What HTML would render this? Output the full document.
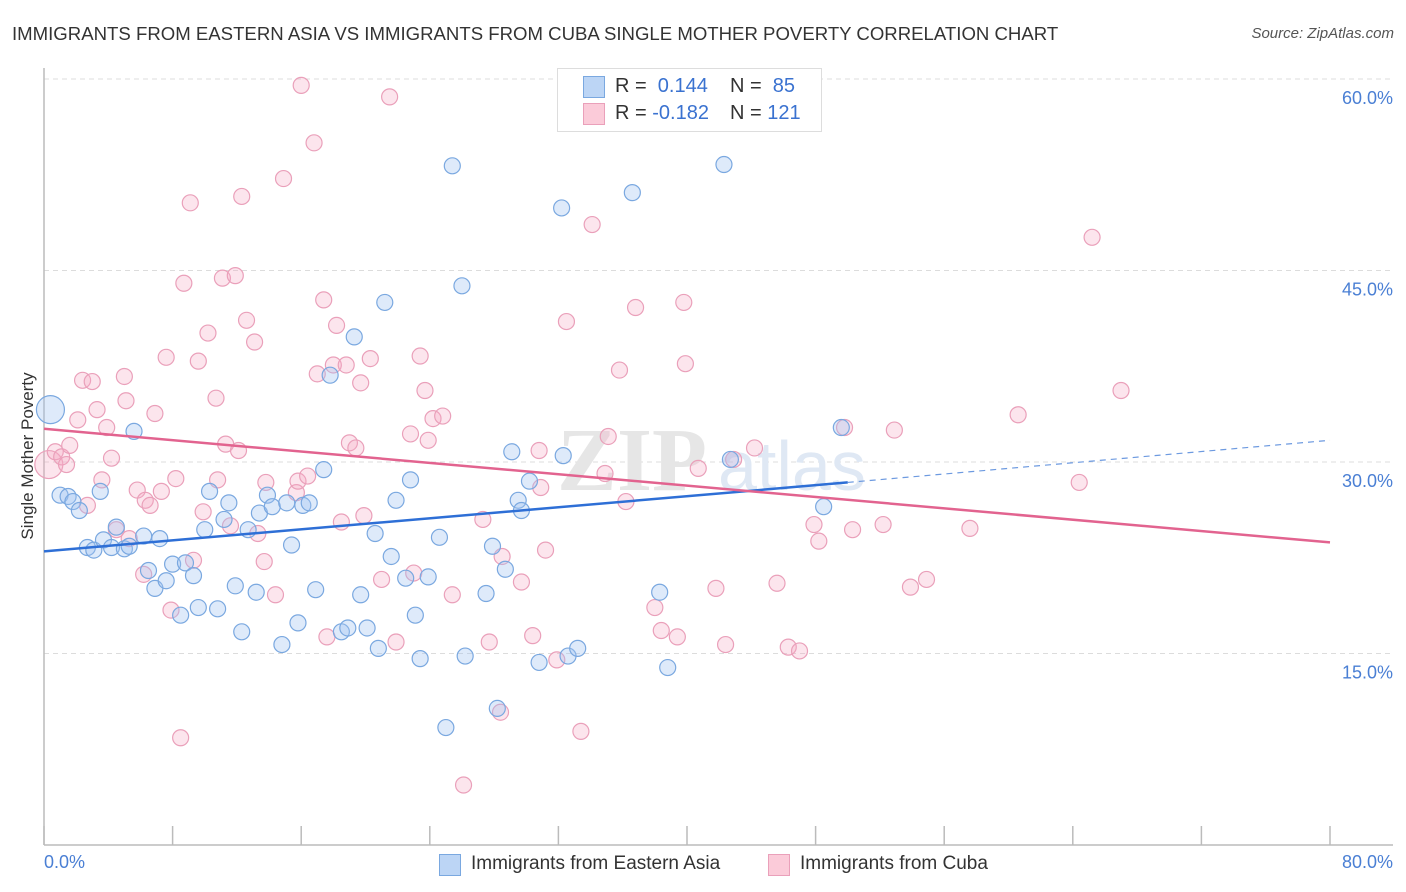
<!DOCTYPE html>
<html><head><meta charset="utf-8"><style>
body{margin:0;background:#fff;font-family:"Liberation Sans",sans-serif;}
#wrap{position:relative;width:1406px;height:892px;overflow:hidden;}
.t{position:absolute;white-space:nowrap;}
</style></head><body>
<div id="wrap">
<div class="t" style="left:12px;top:23px;font-size:18.6px;color:#333;">IMMIGRANTS FROM EASTERN ASIA VS IMMIGRANTS FROM CUBA SINGLE MOTHER POVERTY CORRELATION CHART</div>
<div class="t" style="right:12px;top:25px;font-size:15px;color:#555;font-style:italic;">Source: ZipAtlas.com</div>
<svg id="svg" width="1406" height="892" style="position:absolute;left:0;top:0"></svg>
</div>
<script>
const blueX=[0.4,1.0,1.5,1.8,2.2,2.7,3.1,3.5,3.7,4.2,4.5,5.0,5.3,5.6,6.2,6.5,6.9,7.2,7.6,8.0,8.5,8.8,9.3,9.6,10.0,10.3,10.8,11.2,11.5,11.9,12.3,12.7,13.2,13.4,13.9,14.2,14.8,15.1,15.4,15.8,16.1,16.5,16.9,17.4,17.8,18.5,18.9,19.3,19.7,20.1,20.6,20.8,21.2,21.6,21.9,22.5,22.8,23.1,23.4,23.9,24.6,25.0,25.4,26.0,26.2,27.5,27.9,28.2,28.7,29.1,29.5,29.7,30.2,30.8,32.2,32.3,32.6,33.2,36.6,38.3,38.8,42.3,42.7,48.5,49.6];
const blueY=[34.1,27.4,27.3,26.9,26.2,23.3,23.1,27.7,23.9,23.3,24.9,23.2,23.4,32.4,24.2,21.5,20.1,24.0,20.7,22.0,18.0,22.1,21.1,18.6,24.7,27.7,18.5,25.5,26.8,20.3,16.7,24.7,19.8,26.0,27.4,26.5,15.7,26.8,23.5,17.4,26.6,26.8,20.0,29.4,36.8,16.7,17.0,39.8,19.6,17.0,24.4,15.4,42.5,22.6,27.0,20.9,28.6,18.0,14.6,21.0,24.1,9.2,53.2,43.8,14.8,19.7,23.4,10.7,21.6,30.8,27.0,26.2,28.5,14.3,49.9,30.5,14.8,15.4,51.1,19.8,13.9,53.3,30.2,26.5,32.7];
const pinkX=[0.3,0.7,1.1,1.4,1.6,2.1,2.4,2.7,3.0,3.3,3.6,3.9,4.2,4.5,5.0,5.1,5.3,5.8,6.2,6.3,6.6,6.9,7.3,7.6,7.9,8.2,8.5,8.7,9.1,9.3,9.6,9.9,10.2,10.7,10.8,11.1,11.3,11.6,11.9,12.1,12.3,12.6,13.1,13.3,13.7,13.8,14.4,14.9,15.7,15.8,16.0,16.4,16.8,17.0,17.4,17.6,18.0,18.2,18.5,18.8,19.0,19.4,19.7,19.9,20.3,21.0,21.5,21.9,22.8,23.0,23.4,23.7,23.9,24.2,24.8,25.4,26.1,27.3,27.7,28.4,28.5,29.7,30.4,30.8,30.9,31.2,31.9,32.5,33.4,34.1,34.9,35.1,35.8,36.2,36.8,38.0,38.4,39.4,39.8,39.9,40.7,41.8,42.4,42.9,44.2,45.6,46.3,47.0,47.9,48.2,49.8,50.3,52.2,52.9,53.9,54.9,57.6,60.6,64.4,65.2,67.0];
const pinkY=[29.8,30.8,30.4,29.8,31.3,33.3,36.4,26.6,36.3,34.1,28.6,32.7,30.3,24.7,36.7,34.8,24.0,27.8,21.2,27.0,26.6,33.8,27.7,38.2,18.4,28.7,8.4,44.0,50.3,22.3,37.9,26.1,40.1,35.0,28.6,44.4,31.4,25.0,44.6,30.9,50.8,41.1,39.4,24.4,22.2,28.4,19.6,52.2,27.6,28.5,59.5,28.9,55.0,36.9,42.7,16.3,37.6,40.7,25.3,37.6,31.5,31.1,36.2,25.8,38.1,20.8,58.6,15.9,32.2,21.3,38.3,35.6,31.7,33.4,33.6,19.6,4.7,25.5,15.9,10.4,22.6,20.6,16.4,30.9,28.0,23.1,14.5,41.0,8.9,48.6,29.1,32.0,37.2,26.9,42.1,18.6,16.8,16.3,42.5,37.7,29.5,20.1,15.7,30.2,31.1,20.5,15.5,15.2,25.1,23.8,32.7,24.7,25.1,32.5,20.2,20.8,24.8,33.7,28.4,47.6,35.6];
const blueTrend=[23.0,28.4,31.7]; // at x=0, 50, 80
const pinkTrend=[32.6,23.7];      // at x=0, 80
const yTicks=[15,30,45,60];
const yTickLabels=["15.0%","30.0%","45.0%","60.0%"];
const xTickVals=[0,8,16,24,32,40,48,56,64,72,80];

const svg=document.getElementById('svg');
const NS='http://www.w3.org/2000/svg';
const X=v=>44+v/80*1286;
const Y=v=>845-v/15*191.5;
function mk(tag,attrs,parent){const e=document.createElementNS(NS,tag);for(const k in attrs)e.setAttribute(k,attrs[k]);(parent||svg).appendChild(e);return e;}

yTicks.forEach((t,i)=>{
  const g=mk('line',{x1:44,x2:1393,y1:Y(t),y2:Y(t),stroke:'#dcdcdc','stroke-dasharray':'5,4','stroke-width':1});
  
  
  const tx=mk('text',{x:1393,y:Y(t)+25,'text-anchor':'end','font-size':18,fill:'#4a7fd4','font-family':'Liberation Sans, sans-serif'});
  tx.textContent=yTickLabels[i];
  
  
});
const ax=mk('line',{x1:44,x2:1393,y1:845,y2:845,stroke:'#bbb','stroke-width':1.5});


const ay=mk('line',{x1:44,x2:44,y1:68,y2:845,stroke:'#bbb','stroke-width':1.5});


xTickVals.forEach(v=>{
  const tk=mk('line',{x1:X(v),x2:X(v),y1:826,y2:845,stroke:'#bbb','stroke-width':1.5});
  
  
});
const wm=mk('text',{x:632,y:490,'text-anchor':'middle','font-size':90,fill:'#e6e6e6','font-family':'Liberation Serif, serif','font-weight':'bold'});
wm.textContent='ZIP';


const wm2=mk('text',{x:718,y:490,'font-size':70,fill:'#dfe8f4','font-family':'Liberation Sans, sans-serif'});
wm2.textContent='atlas';



pinkX.forEach((x,i)=>{
  const c=mk('circle',{cx:X(x),cy:Y(pinkY[i]),r:i===0?14:8,fill:'rgba(245,170,195,0.3)',stroke:'#eaa0ba','stroke-width':1.2});
  
  
});
blueX.forEach((x,i)=>{
  const c=mk('circle',{cx:X(x),cy:Y(blueY[i]),r:i===0?14:8,fill:'rgba(160,196,240,0.35)',stroke:'#7aa8e0','stroke-width':1.2});
  
  
});
const bt=mk('line',{x1:X(0),y1:Y(blueTrend[0]),x2:X(50),y2:Y(blueTrend[1]),stroke:'#2e6fd6','stroke-width':2.5});


const bd=mk('line',{x1:X(50),y1:Y(blueTrend[1]),x2:X(80),y2:Y(blueTrend[2]),stroke:'#6d9ae0','stroke-width':1.2,'stroke-dasharray':'6,5'});


const pt=mk('line',{x1:X(0),y1:Y(pinkTrend[0]),x2:X(80),y2:Y(pinkTrend[1]),stroke:'#e2638f','stroke-width':2.5});


</script>
<div class="t" style="left:28px;top:456px;font-size:17px;color:#333;transform:translate(-50%,-50%) rotate(-90deg);">Single Mother Poverty</div>
<div class="t" style="left:44px;top:852px;font-size:18px;color:#4a7fd4;">0.0%</div>
<div class="t" style="right:13px;top:852px;font-size:18px;color:#4a7fd4;">80.0%</div>

<div style="position:absolute;left:557px;top:68px;width:263px;height:62px;border:1px solid #ddd;background:#fff;font-size:20px;color:#333;">
  <div style="position:absolute;left:25px;top:7px;width:20px;height:20px;background:#bcd5f5;border:1px solid #7aa8e0;"></div>
  <div class="t" style="left:57px;top:6px;">R = &nbsp;<span style="color:#3a72d0">0.144</span></div>
  <div class="t" style="left:172px;top:6px;">N = &nbsp;<span style="color:#3a72d0">85</span></div>
  <div style="position:absolute;left:25px;top:34px;width:20px;height:20px;background:#fbcbd9;border:1px solid #eaa0ba;"></div>
  <div class="t" style="left:57px;top:33px;">R = <span style="color:#3a72d0">-0.182</span></div>
  <div class="t" style="left:172px;top:33px;">N = <span style="color:#3a72d0">121</span></div>
</div>

<div style="position:absolute;left:439px;top:853px;">
  <div style="position:absolute;left:0;top:1px;width:20px;height:20px;background:#bcd5f5;border:1px solid #7aa8e0;"></div>
  <div class="t" style="left:32px;top:0;font-size:19px;color:#333;">Immigrants from Eastern Asia</div>
</div>
<div style="position:absolute;left:768px;top:853px;">
  <div style="position:absolute;left:0;top:1px;width:20px;height:20px;background:#fbcbd9;border:1px solid #eaa0ba;"></div>
  <div class="t" style="left:32px;top:0;font-size:19px;color:#333;">Immigrants from Cuba</div>
</div>
</body></html>
